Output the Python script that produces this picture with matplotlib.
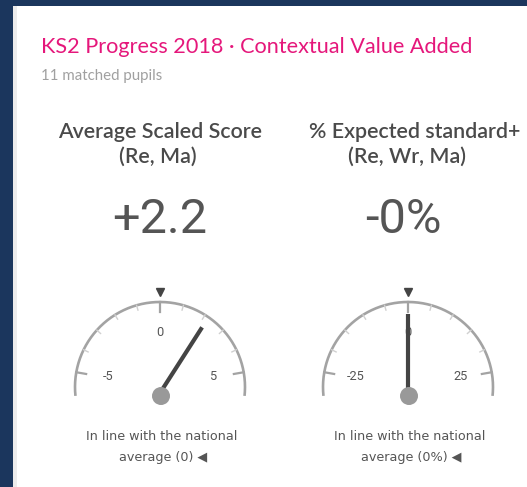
import numpy as np
import matplotlib
matplotlib.use("Agg")
import matplotlib.pyplot as plt
from matplotlib.patches import Rectangle, Circle

# chart data
title = "KS2 Progress 2018 · Contextual Value Added"
subtitle = "11 matched pupils"
head_line1 = ["Average Scaled Score", "% Expected standard+"]
head_line2 = ["(Re, Ma)", "(Re, Wr, Ma)"]
values = [2.2, -0.0]
value_text = ["+2.2", "-0%"]
major_ticks = [[-5, 0, 5], [-25, 0, 25]]
minor_step = [1, 5]
gauge_max = [6, 30]
note_line1 = ["In line with the national", "In line with the national"]
note_line2 = ["average (0) ◀", "average (0%) ◀"]

W, H = 527, 487
fig = plt.figure(figsize=(W / 100, H / 100), dpi=100)
fig.set_facecolor('#1b365d')
ax = fig.add_axes([0, 0, 1, 1])
ax.set_xlim(0, W)
ax.set_ylim(H, 0)
ax.axis('off')

# white card
ax.add_patch(Rectangle((13, 6), W, H, facecolor='#ececec', edgecolor='none'))
ax.add_patch(Rectangle((17, 6), W, H, facecolor='white', edgecolor='none'))

ax.text(41, 47, title, color='#e5177b', fontsize=15.6, family='Lato',
        ha='left', va='center')
ax.text(41, 76, subtitle, color='#a0a0a0', fontsize=10.8, family='Lato',
        ha='left', va='center')

centers = [160, 408]
head_x1 = [160, 415]
head_x2 = [158, 407]
value_x = [160, 403]
cy = 387
R = 85

for i in range(2):
    cx = centers[i]
    gmax = gauge_max[i]
    k = 96.0 / gmax  # degrees per unit

    ax.text(head_x1[i], 132, head_line1[i], color='#4a4a4a', fontsize=15.4,
            family='Lato', weight='semibold', ha='center', va='center')
    ax.text(head_x2[i], 157, head_line2[i], color='#4a4a4a', fontsize=15.4,
            family='Lato', weight='semibold', ha='center', va='center')
    ax.text(value_x[i], 220, value_text[i], color='#555555', fontsize=35,
            family='Roboto', ha='center', va='center')

    # arc
    t = np.radians(np.linspace(-gmax, gmax, 300) * k)
    ax.plot(cx + R * np.sin(t), cy - R * np.cos(t), color='#a3a3a3',
            lw=1.9, solid_capstyle='butt')

    # ticks
    lo, hi = major_ticks[i][0], major_ticks[i][-1]
    for v in np.arange(lo, hi + minor_step[i], minor_step[i]):
        a = np.radians(v * k)
        if v in major_ticks[i]:
            r0, col, lw = R - 10, '#a3a3a3', 1.6
        else:
            r0, col, lw = R - 5, '#d0d0d0', 1.0
        ax.plot([cx + r0 * np.sin(a), cx + R * np.sin(a)],
                [cy - r0 * np.cos(a), cy - R * np.cos(a)], color=col, lw=lw)
    for v in major_ticks[i]:
        a = np.radians(v * k)
        ax.text(cx + 53 * np.sin(a), cy - 53 * np.cos(a) - 1, str(v),
                color='#555555', fontsize=9.2, family='Roboto',
                ha='center', va='center')

    # national average marker
    ax.plot([cx], [cy - R - 10], marker='v', color='#444444', markersize=6,
            linestyle='none')

    # needle
    a = np.radians(values[i] * k)
    ax.plot([cx, cx + 73 * np.sin(a)], [cy + 6, cy - 73 * np.cos(a)],
            color='#444444', lw=3, solid_capstyle='butt', zorder=4)
    ax.add_patch(Circle((cx + 1, cy + 9), 9, facecolor='#999999',
                        edgecolor='none', zorder=5))

    ax.text(cx + 2, 437, note_line1[i], color='#555555', fontsize=9.2,
            family='Liberation Sans Narrow', ha='center', va='center')
    ax.text(cx + 3, 457, note_line2[i], color='#555555', fontsize=9.2,
            family=['Liberation Sans Narrow', 'DejaVu Sans'], ha='center',
            va='center')

fig.savefig('out.png', dpi=100, facecolor=fig.get_facecolor())
